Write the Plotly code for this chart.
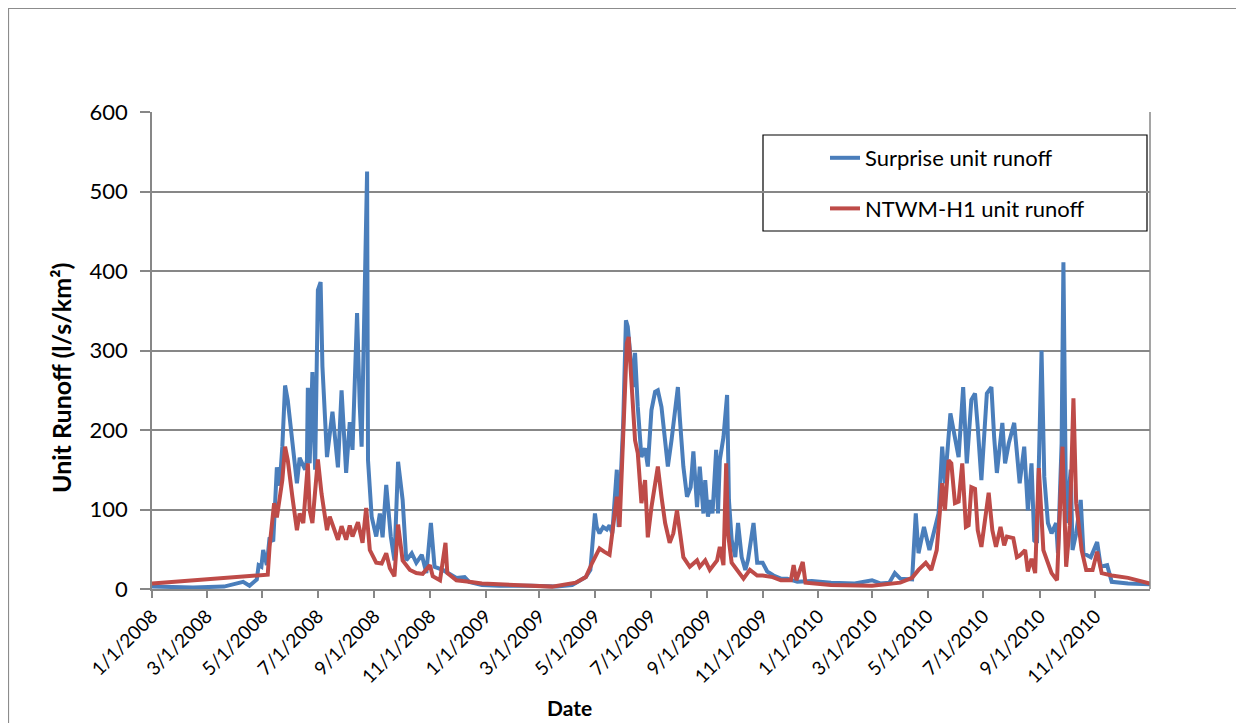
import plotly.graph_objects as go

surprise_dates = [
    "2008-01-01","2008-02-15","2008-03-20","2008-04-10","2008-04-17","2008-04-25","2008-04-27","2008-04-30",
    "2008-05-02","2008-05-06","2008-05-09","2008-05-13","2008-05-17","2008-05-20","2008-05-23","2008-05-26",
    "2008-05-29","2008-06-04","2008-06-08","2008-06-11","2008-06-17","2008-06-19","2008-06-20","2008-06-22",
    "2008-06-25","2008-06-28","2008-07-01","2008-07-04","2008-07-06","2008-07-11","2008-07-14","2008-07-17",
    "2008-07-23","2008-07-27","2008-08-01","2008-08-05","2008-08-08","2008-08-13","2008-08-16","2008-08-18",
    "2008-08-24","2008-08-25","2008-08-29","2008-09-03","2008-09-07","2008-09-10","2008-09-14","2008-09-19",
    "2008-09-23","2008-09-27","2008-10-02","2008-10-06","2008-10-12","2008-10-17","2008-10-23","2008-10-28",
    "2008-11-02","2008-11-06","2008-11-15","2008-11-30","2008-12-09","2008-12-14","2008-12-28","2009-01-16",
    "2009-02-20","2009-03-20","2009-04-06","2009-04-13","2009-04-21","2009-04-26","2009-05-01","2009-05-03",
    "2009-05-06","2009-05-10","2009-05-14","2009-05-17","2009-05-20","2009-05-25","2009-05-27","2009-06-01",
    "2009-06-04","2009-06-06","2009-06-08","2009-06-12","2009-06-14","2009-06-17","2009-06-21","2009-06-25",
    "2009-06-28","2009-07-02","2009-07-06","2009-07-09","2009-07-13","2009-07-17","2009-07-20","2009-07-24",
    "2009-07-28","2009-07-31","2009-08-02","2009-08-06","2009-08-10","2009-08-14","2009-08-17","2009-08-21",
    "2009-08-24","2009-08-28","2009-08-30","2009-09-02","2009-09-05","2009-09-07","2009-09-11","2009-09-13",
    "2009-09-15","2009-09-19","2009-09-23","2009-09-25","2009-09-28","2009-10-02","2009-10-05","2009-10-09",
    "2009-10-13","2009-10-16","2009-10-22","2009-10-26","2009-11-01","2009-11-06","2009-11-13","2009-11-21",
    "2009-11-28","2009-12-09","2009-12-25","2010-01-15","2010-02-10","2010-03-01","2010-03-10","2010-03-20",
    "2010-03-26","2010-04-01","2010-04-14","2010-04-18","2010-04-21","2010-04-27","2010-05-03","2010-05-10",
    "2010-05-13","2010-05-17","2010-05-20","2010-05-26","2010-05-29","2010-06-04","2010-06-09","2010-06-13",
    "2010-06-18","2010-06-22","2010-06-25","2010-06-29","2010-07-05","2010-07-10","2010-07-13","2010-07-16",
    "2010-07-22","2010-07-25","2010-07-29","2010-08-04","2010-08-10","2010-08-15","2010-08-19","2010-08-23",
    "2010-08-26","2010-08-29","2010-09-03","2010-09-06","2010-09-10","2010-09-14","2010-09-19","2010-09-21",
    "2010-09-25","2010-09-27","2010-09-30","2010-10-05","2010-10-07","2010-10-11","2010-10-16","2010-10-19",
    "2010-10-27","2010-11-03","2010-11-07","2010-11-14","2010-11-19","2010-12-07","2010-12-31",
]
surprise_values = [
    3, 2, 3, 9, 4, 12, 30, 28,
    49, 30, 65, 60, 153, 130, 179, 256,
    237, 178, 133, 165, 150, 162, 253, 158,
    273, 150, 376, 386, 280, 166, 200, 223,
    153, 250, 146, 210, 175, 347, 229, 179,
    525, 162, 91, 66, 95, 65, 131, 66,
    36, 160, 112, 36, 45, 33, 43, 20,
    83, 28, 24, 14, 15, 9, 5, 4,
    4, 3, 5, 10, 15, 24, 95, 78,
    70, 78, 75, 80, 70, 150, 78, 209,
    338, 330, 300, 254, 297, 229, 166, 177,
    154, 225, 248, 250, 229, 179, 154, 187,
    225, 254, 217, 154, 116, 128, 173, 103,
    154, 95, 137, 91, 112, 95, 175, 95,
    162, 191, 244, 112, 62, 40, 83, 40,
    24, 37, 83, 33, 33, 22, 17, 13,
    13, 9, 10, 8, 7, 11, 7, 8,
    20, 13, 12, 95, 45, 78, 49, 83,
    95, 179, 133, 221, 204, 166, 254, 158,
    238, 246, 204, 137, 246, 254, 191, 146,
    209, 158, 183, 209, 133, 179, 99, 158,
    61, 58, 300, 141, 83, 70, 83, 45,
    183, 411, 83, 150, 49, 70, 112, 45,
    40, 59, 28, 30, 9, 7, 6,
]

ntwm_dates = [
    "2008-01-01","2008-05-07","2008-05-09","2008-05-14","2008-05-17","2008-05-23","2008-05-26","2008-05-29",
    "2008-06-03","2008-06-06","2008-06-08","2008-06-11","2008-06-15","2008-06-20","2008-06-22","2008-06-25",
    "2008-06-30","2008-07-01","2008-07-05","2008-07-11","2008-07-14","2008-07-19","2008-07-23","2008-07-27",
    "2008-08-01","2008-08-05","2008-08-08","2008-08-14","2008-08-19","2008-08-23","2008-08-27","2008-09-03",
    "2008-09-09","2008-09-14","2008-09-18","2008-09-23","2008-09-27","2008-10-02","2008-10-10","2008-10-17",
    "2008-10-24","2008-11-01","2008-11-04","2008-11-12","2008-11-18","2008-11-20","2008-11-30","2008-12-14",
    "2008-12-28","2009-02-01","2009-03-15","2009-04-10","2009-04-21","2009-04-28","2009-05-06","2009-05-11",
    "2009-05-17","2009-05-20","2009-05-25","2009-05-28","2009-06-01","2009-06-05","2009-06-07","2009-06-10",
    "2009-06-14","2009-06-17","2009-06-21","2009-06-25","2009-06-28","2009-07-02","2009-07-06","2009-07-09",
    "2009-07-13","2009-07-17","2009-07-22","2009-07-26","2009-07-30","2009-08-02","2009-08-06","2009-08-13",
    "2009-08-21","2009-08-24","2009-08-30","2009-09-04","2009-09-12","2009-09-15","2009-09-19","2009-09-22",
    "2009-09-24","2009-09-28","2009-10-04","2009-10-11","2009-10-18","2009-10-26","2009-11-01","2009-11-12",
    "2009-11-21","2009-12-02","2009-12-05","2009-12-08","2009-12-15","2009-12-18","2010-01-15","2010-03-01",
    "2010-04-01","2010-04-14","2010-04-21","2010-04-29","2010-05-05","2010-05-11","2010-05-17","2010-05-20",
    "2010-05-24","2010-05-27","2010-05-31","2010-06-04","2010-06-08","2010-06-12","2010-06-15","2010-06-18",
    "2010-06-22","2010-06-25","2010-06-29","2010-07-07","2010-07-11","2010-07-15","2010-07-20","2010-07-24",
    "2010-07-27","2010-08-03","2010-08-07","2010-08-10","2010-08-16","2010-08-19","2010-08-23","2010-08-27",
    "2010-08-31","2010-09-05","2010-09-09","2010-09-14","2010-09-20","2010-09-23","2010-09-26","2010-09-30",
    "2010-10-04","2010-10-08","2010-10-11","2010-10-17","2010-10-22","2010-10-29","2010-11-03","2010-11-08",
    "2010-11-19","2010-12-07","2010-12-31",
]
ntwm_values = [
    7, 18, 53, 108, 90, 137, 179, 162,
    116, 95, 74, 95, 83, 158, 99, 83,
    154, 163, 120, 74, 91, 74, 62, 79,
    62, 80, 66, 84, 58, 102, 49, 33,
    32, 45, 26, 16, 81, 36, 24, 20,
    19, 30, 16, 11, 58, 20, 11, 9,
    7, 5, 3, 8, 15, 33, 51, 47,
    43, 70, 116, 78, 204, 309, 317, 254,
    187, 171, 108, 137, 65, 103, 133, 154,
    116, 83, 58, 70, 99, 70, 40, 28,
    36, 28, 36, 24, 36, 53, 30, 158,
    70, 33, 24, 13, 24, 17, 17, 15,
    11, 11, 30, 11, 34, 8, 5, 4,
    8, 14, 24, 33, 24, 49, 133, 99,
    162, 158, 108, 110, 158, 78, 80, 128,
    126, 74, 53, 121, 74, 53, 78, 55,
    66, 64, 40, 42, 49, 22, 38, 20,
    152, 49, 36, 20, 11, 91, 179, 28,
    80, 240, 108, 49, 24, 24, 47, 20,
    17, 14, 7,
]

tick_dates = ["2008-01-01","2008-03-01","2008-05-01","2008-07-01","2008-09-01","2008-11-01",
              "2009-01-01","2009-03-01","2009-05-01","2009-07-01","2009-09-01","2009-11-01",
              "2010-01-01","2010-03-01","2010-05-01","2010-07-01","2010-09-01","2010-11-01"]
tick_labels = ["1/1/2008","3/1/2008","5/1/2008","7/1/2008","9/1/2008","11/1/2008",
               "1/1/2009","3/1/2009","5/1/2009","7/1/2009","9/1/2009","11/1/2009",
               "1/1/2010","3/1/2010","5/1/2010","7/1/2010","9/1/2010","11/1/2010"]

FONT = "Lato, 'Open Sans', sans-serif"
GRID = "#878787"

fig = go.Figure()
fig.add_trace(go.Scatter(x=surprise_dates, y=surprise_values, mode="lines",
                         name="Surprise unit runoff", legendgroup="a",
                         line=dict(color="#4a7ebb", width=4)))
fig.add_trace(go.Scatter(x=ntwm_dates, y=ntwm_values, mode="lines",
                         name="NTWM-H1 unit runoff", legendgroup="b",
                         line=dict(color="#be4b48", width=4)))

# screen-pixel geometry (page body has an 8px margin)
OFF = 8
L, R, T, B = 152, 1150, 112, 589
W, H = 1236, 715

def px(x):
    return (x - L) / (R - L)

def py(y):
    return (B - y) / (B - T)

fig.update_layout(
    width=W, height=H,
    margin=dict(l=L - OFF, r=W - (R - OFF), t=T - OFF, b=H - (B - OFF)),
    paper_bgcolor="white", plot_bgcolor="white",
    font=dict(family=FONT, color="black"),
    showlegend=True,
    legend=dict(x=px(825), y=py(137), xanchor="left", yanchor="top",
                bgcolor="rgba(0,0,0,0)", borderwidth=0,
                font=dict(family=FONT, size=22),
                traceorder="grouped", tracegroupgap=19),
    xaxis=dict(
        type="date", range=["2008-01-01", "2010-12-31"],
        tickmode="array", tickvals=tick_dates, ticktext=tick_labels,
        tickangle=-45, tickfont=dict(family=FONT, size=19),
        showgrid=False, showline=True, linecolor=GRID, linewidth=1.5,
        ticks="outside", ticklen=7, tickcolor=GRID, tickwidth=1.5,
    ),
    yaxis=dict(
        range=[0, 600], dtick=100, tick0=0,
        tickfont=dict(family=FONT, size=22),
        showgrid=True, gridcolor=GRID, gridwidth=1.5,
        showline=True, linecolor=GRID, linewidth=1.5,
        ticks="outside", ticklen=10, tickcolor=GRID, tickwidth=1.5,
        ticklabelstandoff=8,
        zeroline=False,
    ),
    annotations=[
        dict(text="<b>Unit Runoff (l/s/km²)</b>", textangle=-90, showarrow=False,
             xref="paper", yref="paper", x=px(61), y=py(378),
             xanchor="center", yanchor="middle", font=dict(family=FONT, size=25)),
        dict(text="<b>Date</b>", showarrow=False,
             xref="paper", yref="paper", x=px(569), y=py(707),
             xanchor="center", yanchor="middle", font=dict(family=FONT, size=21)),
    ],
    shapes=[
        dict(type="rect", xref="paper", yref="paper",
             x0=px(8.5), x1=px(1237), y0=py(740), y1=py(8.5),
             line=dict(color="#8c8c8c", width=1.2), fillcolor="rgba(0,0,0,0)", layer="below"),
        dict(type="line", xref="paper", yref="paper",
             x0=1, x1=1, y0=0, y1=1, line=dict(color=GRID, width=1.5)),
        dict(type="rect", xref="paper", yref="paper",
             x0=px(763), x1=px(1147), y0=py(231), y1=py(135),
             line=dict(color="black", width=1.2), fillcolor="white", layer="below"),
    ],
)

fig.write_html("out.html")
